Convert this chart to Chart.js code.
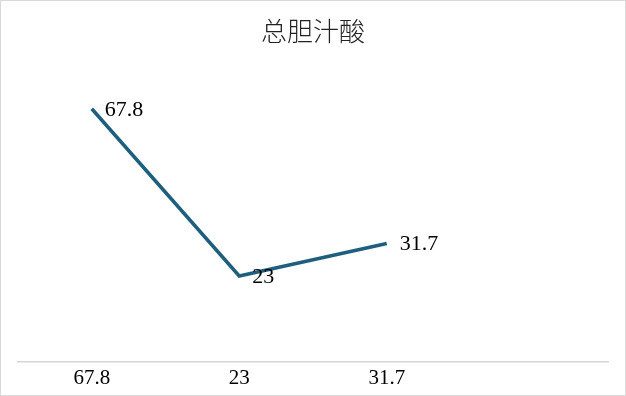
<!DOCTYPE html>
<html>
<head>
<meta charset="utf-8">
<script src="https://cdn.jsdelivr.net/npm/chart.js@4/dist/chart.umd.min.js"></script>
<style>
  html, body { margin: 0; padding: 0; background: #fff; }
  #wrap { width: 626px; height: 396px; box-sizing: border-box; border: 1px solid #d9d9d9; }
  canvas { display: block; }
</style>
</head>
<body>
<div id="wrap"><canvas id="bileChart" width="624" height="394"></canvas></div>
<script>
const chartTitle = "总胆汁酸";
const categories = ["67.8", "23", "31.7", ""];
const bileValues = [67.8, 23, 31.7, null];
const yMin = 0;
const yMax = 80;

// draw the value next to each point (no datalabels plugin available)
const valueLabels = {
  id: "valueLabels",
  afterDatasetsDraw(chart) {
    const ctx = chart.ctx;
    const meta = chart.getDatasetMeta(0);
    ctx.save();
    ctx.font = "22px 'Liberation Serif', 'Times New Roman', serif";
    ctx.fillStyle = "#000";
    ctx.textAlign = "left";
    ctx.textBaseline = "middle";
    meta.data.forEach((pt, i) => {
      const v = bileValues[i];
      if (v === null || v === undefined) return;
      ctx.fillText(String(v), pt.x + 13, pt.y + 1);
    });
    ctx.restore();
  }
};

new Chart(document.getElementById("bileChart"), {
  type: "line",
  data: {
    labels: categories,
    datasets: [{
      label: chartTitle,
      data: bileValues,
      borderColor: "#1f5f7e",
      borderWidth: 3.5,
      pointRadius: 0,
      tension: 0,
      fill: false
    }]
  },
  options: {
    responsive: false,
    animation: false,
    layout: { padding: { left: 17, right: 17, top: 0, bottom: 0 } },
    plugins: {
      legend: { display: false },
      tooltip: { enabled: false },
      title: {
        display: true,
        text: chartTitle,
        color: "#222",
        font: { family: "'Noto Sans CJK SC', sans-serif", size: 26, weight: 300, lineHeight: 1.2 },
        padding: { top: 15, bottom: 16 }
      }
    },
    scales: {
      x: {
        offset: true,
        grid: { display: false, drawTicks: false },
        border: { display: true, color: "#d6d6d6", width: 1.5 },
        ticks: {
          color: "#000",
          padding: 4,
          maxRotation: 0,
          font: { family: "'Liberation Serif', 'Times New Roman', serif", size: 21 }
        }
      },
      y: {
        display: false,
        min: yMin,
        max: yMax
      }
    }
  },
  plugins: [valueLabels]
});
</script>
</body>
</html>
